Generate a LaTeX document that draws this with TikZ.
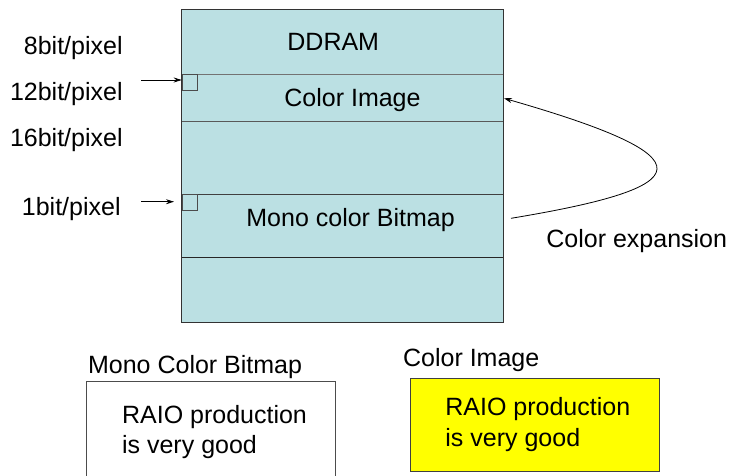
\documentclass[tikz,border=0pt]{standalone}
\usepackage{fontspec}
\setmainfont{Liberation Sans}
\usepackage{xcolor}
\usetikzlibrary{arrows.meta}
\definecolor{celeste}{RGB}{187,224,227}
\definecolor{amarillo}{RGB}{255,255,0}

\begin{document}
\begin{tikzpicture}[x=1pt, y=-1pt, line width=0.8pt,
	texto/.style={font=\fontsize{25}{30}\selectfont, inner sep=0pt},
	cuadrito/.style={draw=black!70, minimum size=15.6pt, inner sep=0pt, anchor=north west},
	flecha/.style={-{Stealth[length=8pt,width=5pt]}}]
	\useasboundingbox (0,0) rectangle (730,475);
	% Bloque de memoria DDRAM
	\fill[celeste] (181.7,9.3) rectangle (503.3,322.7);
	% Divisiones de la memoria
	\draw[black!55] (181.7,74) -- (503.3,74);
	\draw[black!65] (181.7,121.7) -- (503.3,121.7);
	\draw[black!75] (181.7,194.3) -- (503.3,194.3);
	\draw[black!85] (181.7,257.7) -- (503.3,257.7);
	\draw[black!80] (181.7,9.3) rectangle (503.3,322.7);
	% Textos dentro de la memoria
	\node[texto, anchor=base west] (ddram) at (287,50) {DDRAM};
	\node[texto, anchor=base west] (imagen) at (284,106) {Color Image};
	\node[texto, anchor=base west] (mapa) at (246,226) {Mono color Bitmap};
	% Cuadritos de inicio
	\node[cuadrito] (cuadroA) at (181.7,74) {};
	\node[cuadrito] (cuadroB) at (181.7,194.3) {};
	% Etiquetas de bits por pixel
	\node[texto, anchor=base east] (b8) at (123,54) {8bit/pixel};
	\node[texto, anchor=base east] (b12) at (123,100) {12bit/pixel};
	\node[texto, anchor=base east] (b16) at (123,146) {16bit/pixel};
	\node[texto, anchor=base east] (b1) at (121,215) {1bit/pixel};
	% Flechas hacia los cuadritos
	\coordinate (f12) at (141,80);
	\draw[flecha] (f12) -- (f12 -| cuadroA.west);
	\coordinate (f1) at (141,201.7);
	\coordinate (f1fin) at (174,201.7);
	\draw[flecha] (f1) -- (f1fin);
	% Expansion de color
	\coordinate (origen) at (511,218.3);
	\coordinate (destino) at (504,98.3);
	\draw[flecha] (origen) .. controls (700,187) and (712,158) .. (destino);
	\node[texto, anchor=base west] (expansion) at (546,247) {Color expansion};
	% Caja del mapa monocromo
	\draw[black!70] (86.7,476) -- (86.7,381) -- (335.7,381) -- (335.7,476);
	\node[texto, anchor=base west] (titmono) at (87.7,373) {Mono Color Bitmap};
	\node[texto, anchor=base west] (mono1) at (121.7,423) {RAIO production};
	\node[texto, anchor=base west] (mono2) at (121.7,453) {is very good};
	% Caja de la imagen en color
	\filldraw[fill=amarillo, draw=black!75] (410,378.3) rectangle (659.3,471.7);
	\node[texto, anchor=base west] (titcolor) at (402.7,366) {Color Image};
	\node[texto, anchor=base west] (color1) at (445,415) {RAIO production};
	\node[texto, anchor=base west] (color2) at (445,446) {is very good};
\end{tikzpicture}
\end{document}
